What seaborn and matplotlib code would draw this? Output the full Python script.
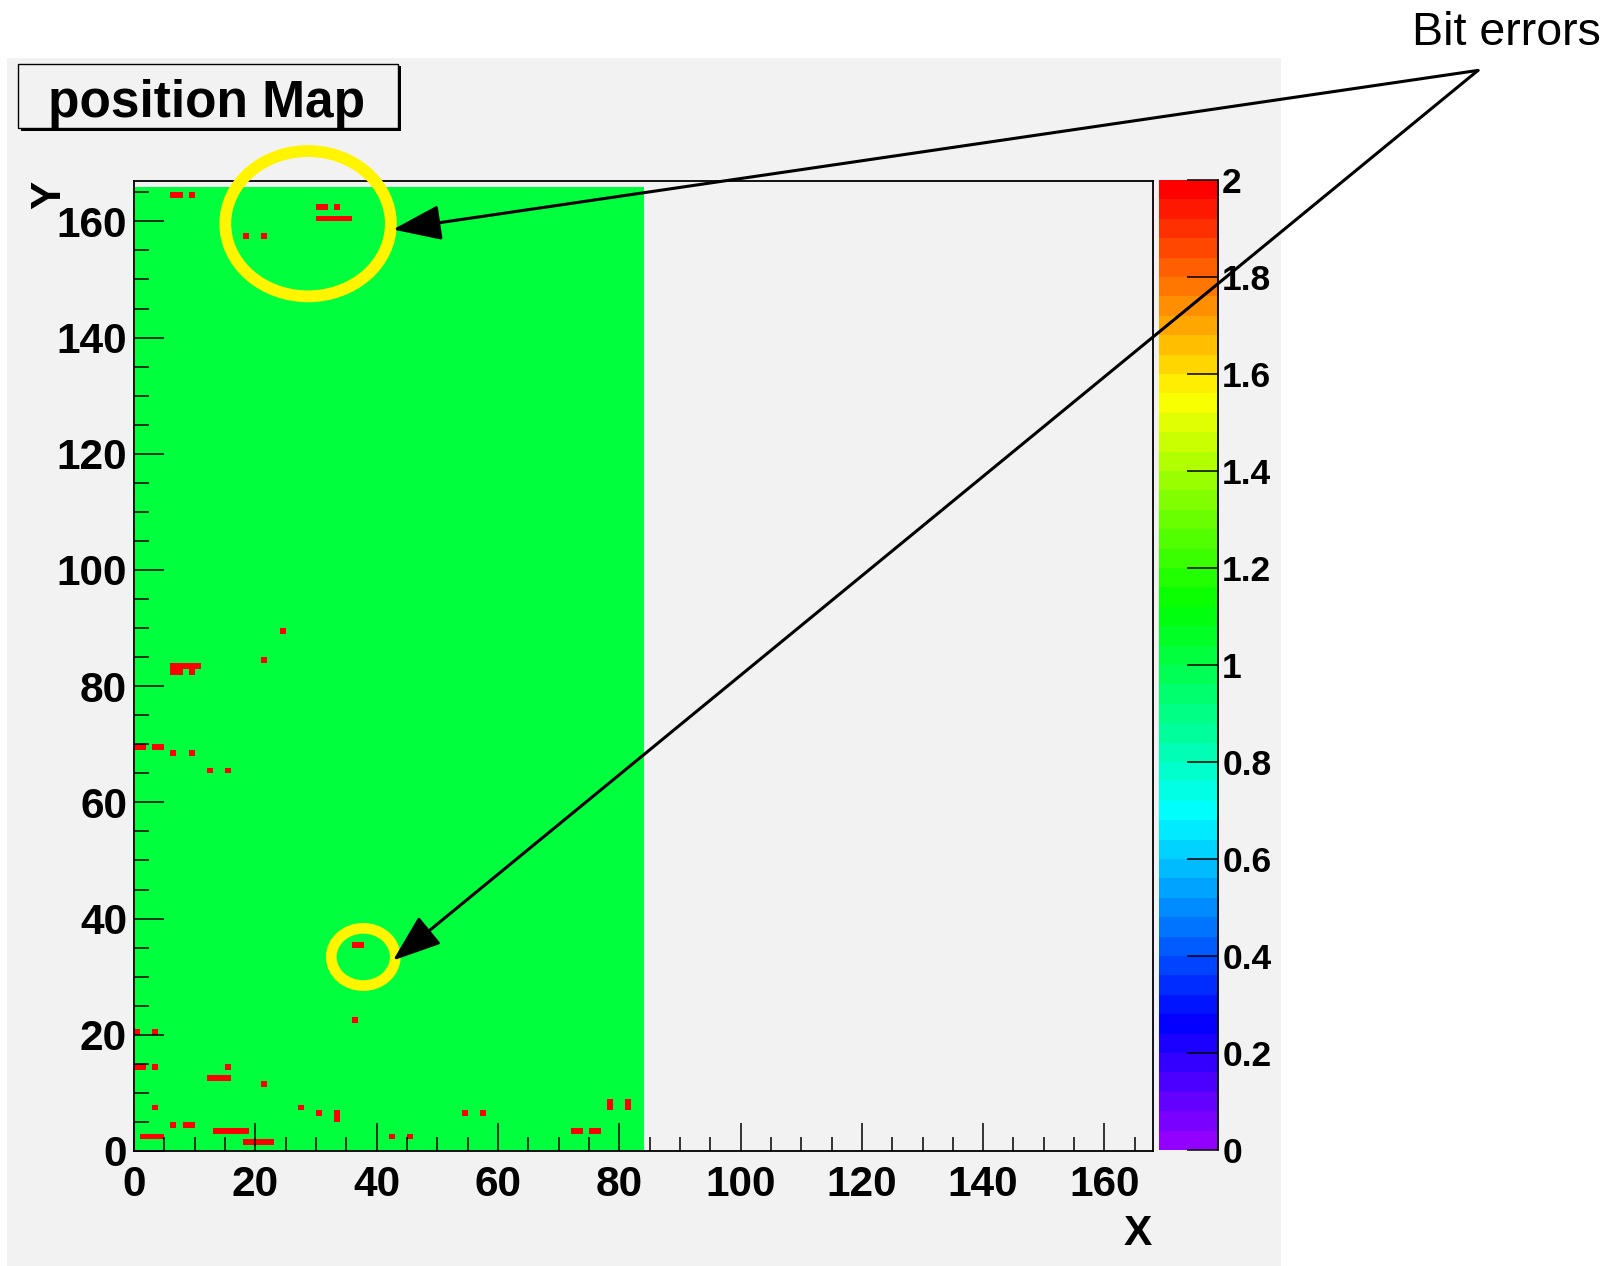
import colorsys

import numpy as np
import matplotlib
matplotlib.use("Agg")
import matplotlib.pyplot as plt
from matplotlib.colors import ListedColormap
from matplotlib.patches import Rectangle, Ellipse
from matplotlib.ticker import FixedLocator, MultipleLocator
import seaborn as sns

plt.rcParams["font.family"] = ["Liberation Sans", "DejaVu Sans"]

# Sensor geometry: axis ranges and the read-out (active) region
n_cols_axis = 168
n_rows_axis = 167
active_cols = 84
active_rows = 166

# Pixels that came back with a flipped bit (value 2); every other active pixel reads 1
error_x = [6, 7, 9, 30, 31, 33, 30, 31, 32, 33, 34, 35, 18, 21,
           24, 21, 6, 7, 8, 9, 10, 6, 7, 9, 0, 1, 3, 4, 6, 9, 12, 15,
           36, 37, 36, 0, 3, 0, 1, 3, 15, 12, 13, 14, 15, 21,
           78, 81, 3, 27, 78, 81, 30, 33, 54, 57, 33, 6, 8, 9,
           13, 14, 15, 16, 17, 18, 72, 73, 75, 76,
           1, 2, 3, 4, 42, 45, 18, 19, 20, 21, 22]
error_y = [164, 164, 164, 162, 162, 162, 160, 160, 160, 160, 160, 160, 157, 157,
           89, 84, 83, 83, 83, 83, 83, 82, 82, 82, 69, 69, 69, 69, 68, 68, 65, 65,
           35, 35, 22, 20, 20, 14, 14, 14, 14, 12, 12, 12, 12, 11,
           8, 8, 7, 7, 7, 7, 6, 6, 6, 6, 5, 4, 4, 4,
           3, 3, 3, 3, 3, 3, 3, 3, 3, 3,
           2, 2, 2, 2, 2, 2, 1, 1, 1, 1, 1]

x_ticks = [0, 20, 40, 60, 80, 100, 120, 140, 160]
y_ticks = [0, 20, 40, 60, 80, 100, 120, 140, 160]
z_ticks = [0, 0.2, 0.4, 0.6, 0.8, 1, 1.2, 1.4, 1.6, 1.8, 2]
z_labels = ["0", "0.2", "0.4", "0.6", "0.8", "1", "1.2", "1.4", "1.6", "1.8", "2"]

grid = np.full((n_rows_axis, n_cols_axis), np.nan)
grid[:active_rows, :active_cols] = 1.0
grid[error_y, error_x] = 2.0

# "Pretty" palette: 50 hues from violet to red at fixed lightness and saturation
n_levels = 50
palette = [colorsys.hls_to_rgb((280 - (i + 1) * 280 / n_levels) / 360, 0.5, 1.0)
           for i in range(n_levels)]
cmap = ListedColormap(palette)

W, H = 1623, 1266
bg = "#f2f2f2"
fig = plt.figure(figsize=(W / 100, H / 100), dpi=100, facecolor="white")
fig.add_artist(Rectangle((7 / W, 0), (1281 - 7) / W, 1 - 58 / H,
                         transform=fig.transFigure, facecolor=bg,
                         edgecolor="none", zorder=-5))

ax = fig.add_axes([134 / W, 1 - 1151 / H, (1153 - 134) / W, (1151 - 180.7) / H])
cax = fig.add_axes([1159 / W, 1 - 1150 / H, (1218 - 1159) / W, (1150 - 180) / H])
ax.set_zorder(3)
cax.set_zorder(1)

sns.heatmap(grid, ax=ax, cmap=cmap, vmin=0, vmax=2, cbar_ax=cax,
            xticklabels=False, yticklabels=False)
ax.set_facecolor(bg)
ax.set_xlim(0, n_cols_axis)
ax.set_ylim(0, n_rows_axis)

for side, spine in ax.spines.items():
    spine.set_visible(True)
    spine.set_color("black")
    spine.set_linewidth(1.3)

ax.xaxis.set_major_locator(FixedLocator(x_ticks))
ax.yaxis.set_major_locator(FixedLocator(y_ticks))
ax.set_xticklabels([str(v) for v in x_ticks])
ax.set_yticklabels([str(v) for v in y_ticks])
ax.xaxis.set_minor_locator(MultipleLocator(5))
ax.yaxis.set_minor_locator(MultipleLocator(5))
ax.tick_params(which="both", direction="in", top=False, right=False,
               bottom=True, left=True, color="black")
ax.tick_params(axis="x", which="major", length=20, width=1.1, labelsize=30.5, pad=10)
ax.tick_params(axis="x", which="minor", length=10, width=1.1)
ax.tick_params(axis="y", which="major", length=21.5, width=1.1, labelsize=30.5, pad=5)
ax.tick_params(axis="y", which="minor", length=11, width=1.1)
for lbl in ax.get_xticklabels() + ax.get_yticklabels():
    lbl.set_fontweight("bold")

# Colour scale
cbar = ax.collections[0].colorbar
cbar.set_ticks(z_ticks)
cbar.set_ticklabels(z_labels)
cax.minorticks_off()
cax.spines["right"].set_visible(True)
cax.spines["right"].set_color("black")
cax.spines["right"].set_linewidth(1.3)
cax.tick_params(axis="y", direction="in", length=22, width=1.1, right=True,
                left=False, labelright=True, labelleft=False, labelsize=25.5, pad=3)
for lbl in cax.get_yticklabels():
    lbl.set_fontweight("bold")

# Axis titles
fig.text(1152 / W, 1 - 1233.7 / H, "X", ha="right", va="center",
         fontsize=30.5, fontweight="bold")
fig.text(49 / W, 1 - 181 / H, "Y", rotation=90, ha="center", va="top",
         fontsize=30.5, fontweight="bold")

# Histogram title box with drop shadow
fig.add_artist(Rectangle((20.5 / W, 1 - 130.5 / H), 380 / W, 64 / H,
                         transform=fig.transFigure, facecolor="black",
                         edgecolor="none", zorder=5))
fig.add_artist(Rectangle((18 / W, 1 - 128 / H), 380 / W, 64 / H,
                         transform=fig.transFigure, facecolor=bg,
                         edgecolor="black", lw=1.0, zorder=6))
fig.text(206.7 / W, 1 - 116.7 / H, "position Map", ha="center", va="baseline",
         fontsize=37, fontweight="bold", zorder=7)

# Highlight rings around the error clusters
yellow = "#fff500"
ax.add_patch(Ellipse((28.7, 159.6), 27.3, 25.0, fill=False, edgecolor=yellow,
                     lw=8.5, clip_on=False, zorder=4))
ax.add_patch(Ellipse((37.8, 33.4), 10.55, 9.86, fill=False, edgecolor=yellow,
                     lw=7.7, clip_on=False, zorder=4))

# Callout
fig.text(1506 / W, 1 - 32.6 / H, "Bit errors", ha="center", va="center", fontsize=33.5)
tail = (1478 / W, 1 - 70.4 / H)
for tip in [(42.7, 158.6), (42.7, 32.8)]:
    ax.annotate("", xy=tip, xycoords="data", xytext=tail,
                textcoords="figure fraction", annotation_clip=False,
                arrowprops=dict(arrowstyle="-|>,head_length=0.6,head_width=0.22",
                                mutation_scale=50, lw=2.2, color="black",
                                shrinkA=0, shrinkB=0), zorder=6)

fig.savefig("out.png", dpi=100)
